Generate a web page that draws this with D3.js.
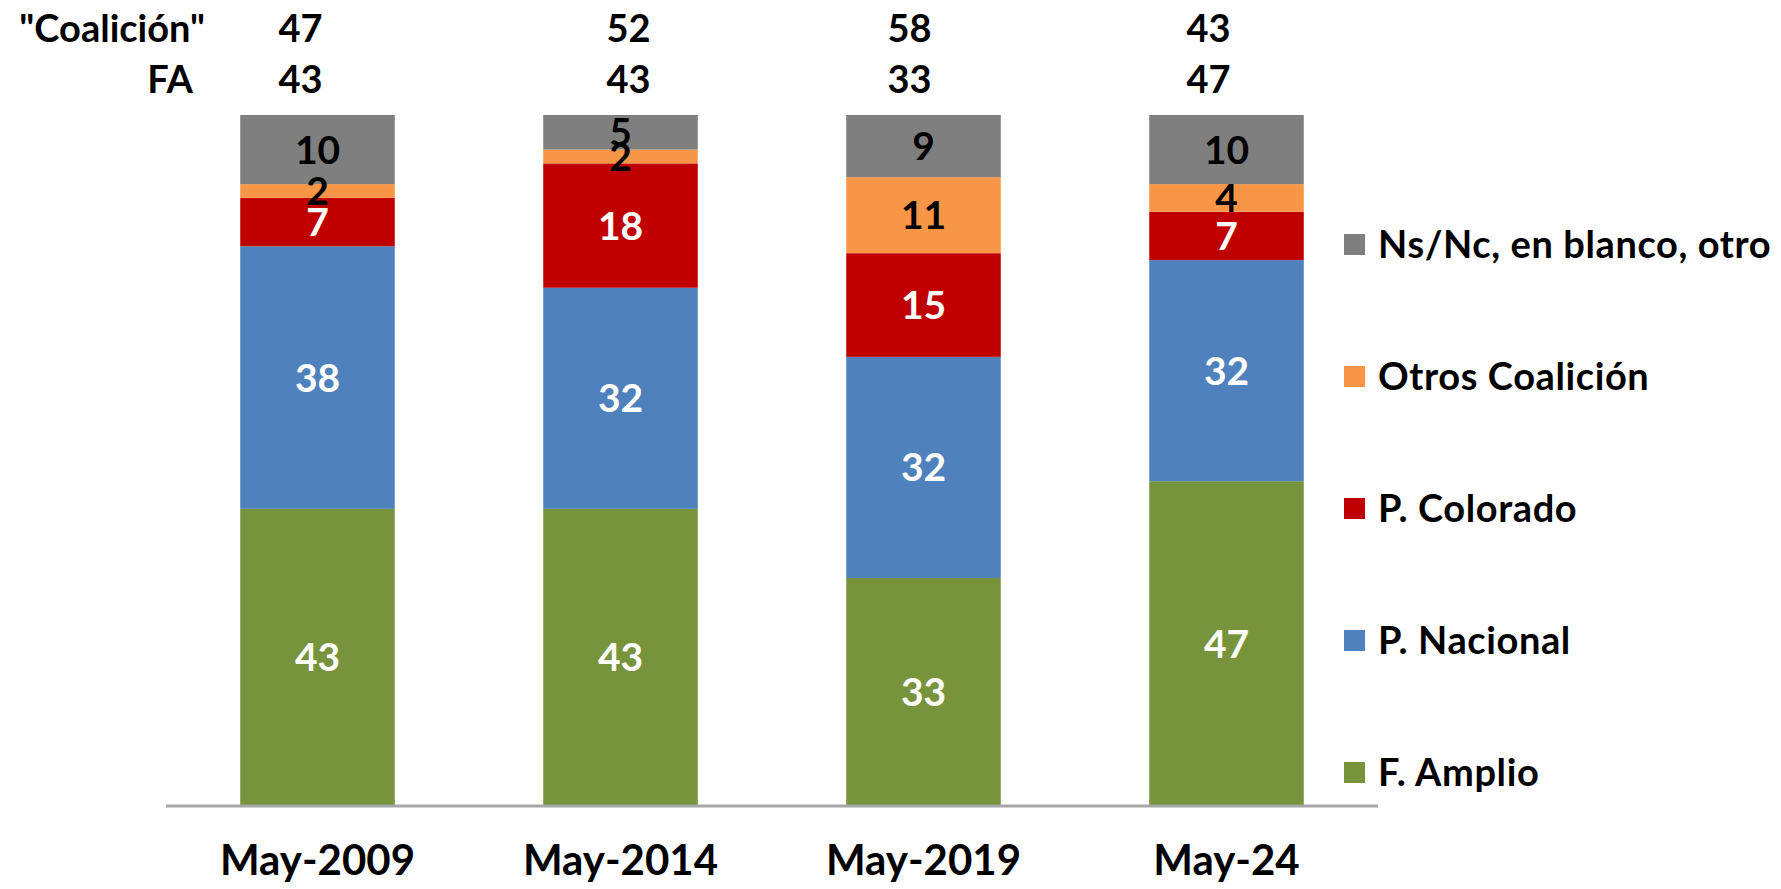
<!DOCTYPE html>
<html>
<head>
<meta charset="utf-8">
<script src="https://cdn.jsdelivr.net/npm/d3@7"></script>
<style>
  html, body { margin: 0; padding: 0; background: #fff; }
  svg { display: block; }
  text { font-family: Lato, "Open Sans", sans-serif; font-weight: 700; }
</style>
</head>
<body>
<svg id="chart" width="1781" height="889"></svg>
<script>
// ---- data ----
const categories = ["May-2009", "May-2014", "May-2019", "May-24"];
const seriesNames = ["F. Amplio", "P. Nacional", "P. Colorado", "Otros Coalición", "Ns/Nc, en blanco, otro"];
const fAmplio   = [43, 43, 33, 47];
const pNacional = [38, 32, 32, 32];
const pColorado = [7, 18, 15, 7];
const otrosCoal = [2, 2, 11, 4];
const nsnc      = [10, 5, 9, 10];
const coalicionTotals = [47, 52, 58, 43];
const faTotals        = [43, 43, 33, 47];
const headerLabels = ["\"Coalición\"", "FA"];

// ---- styling / layout ----
const colors = ["#77933C", "#4F81BD", "#C00000", "#F79646", "#7F7F7F"];
const labelColors = ["#fff", "#fff", "#fff", "#000", "#000"];
const topLabelDx = [-17, 8, -14, -18];

const W = 1781, H = 889;
const svg = d3.select("#chart");

const table = categories.map((c, i) => ({
  cat: c,
  "F. Amplio": fAmplio[i],
  "P. Nacional": pNacional[i],
  "P. Colorado": pColorado[i],
  "Otros Coalición": otrosCoal[i],
  "Ns/Nc, en blanco, otro": nsnc[i]
}));

const stack = d3.stack().keys(seriesNames)(table);

const x = d3.scaleBand().domain(categories).range([166, 1378]).paddingInner(0.49).paddingOuter(0.245);
const y = d3.scaleLinear().domain([0, 100]).range([806, 115]);
const color = d3.scaleOrdinal().domain(seriesNames).range(colors);

// bars
const layers = svg.append("g").selectAll("g")
  .data(stack).join("g")
  .attr("fill", d => color(d.key));

layers.selectAll("rect")
  .data(d => d).join("rect")
  .attr("x", d => x(d.data.cat))
  .attr("width", x.bandwidth())
  .attr("y", d => y(d[1]))
  .attr("height", d => y(d[0]) - y(d[1]));

// segment labels
const capH = 0.36; // fraction of font size to offset baseline to centre caps
const segFont = 39;
stack.forEach((layer, li) => {
  svg.append("g").selectAll("text")
    .data(layer).join("text")
    .attr("x", d => x(d.data.cat) + x.bandwidth() / 2)
    .attr("y", d => (y(d[0]) + y(d[1])) / 2 + segFont * capH)
    .attr("text-anchor", "middle")
    .attr("font-size", segFont)
    .attr("fill", labelColors[li])
    .text(d => d[1] - d[0]);
});

// axis
const xAxis = d3.axisBottom(x).tickSize(0).tickPadding(0);
const gx = svg.append("g").attr("transform", "translate(0,806)").call(xAxis);
gx.select(".domain").attr("stroke", "#A6A6A6").attr("stroke-width", 3)
  .attr("d", "M166,0H1378");
gx.selectAll(".tick text")
  .attr("y", 69)
  .attr("dy", 0)
  .attr("font-size", 42)
  .attr("fill", "#000")
  .style("font-family", "Lato, sans-serif")
  .style("font-weight", 700);

// header rows
const rowsY = [42, 93];
const headerRight = [205, 193];
[coalicionTotals, faTotals].forEach((vals, r) => {
  svg.append("text")
    .attr("x", headerRight[r])
    .attr("y", rowsY[r])
    .attr("text-anchor", "end")
    .attr("font-size", 38)
    .text(headerLabels[r]);
  svg.append("g").selectAll("text")
    .data(vals).join("text")
    .attr("x", (d, i) => x(categories[i]) + x.bandwidth() / 2 + topLabelDx[i])
    .attr("y", rowsY[r])
    .attr("text-anchor", "middle")
    .attr("font-size", 38)
    .text(d => d);
});

// legend (top-down: reverse series order)
const legendItems = seriesNames.slice().reverse();
const legY = d3.scalePoint().domain(legendItems).range([244, 772]);
const leg = svg.append("g").selectAll("g")
  .data(legendItems).join("g")
  .attr("transform", d => `translate(1344,${legY(d)})`);
leg.append("rect")
  .attr("x", 0).attr("y", -10).attr("width", 21).attr("height", 21)
  .attr("fill", d => color(d));
leg.append("text")
  .attr("x", 34).attr("y", 14)
  .attr("font-size", 38)
  .attr("letter-spacing", 0.6)
  .attr("fill", "#000")
  .text(d => d);
</script>
</body>
</html>
